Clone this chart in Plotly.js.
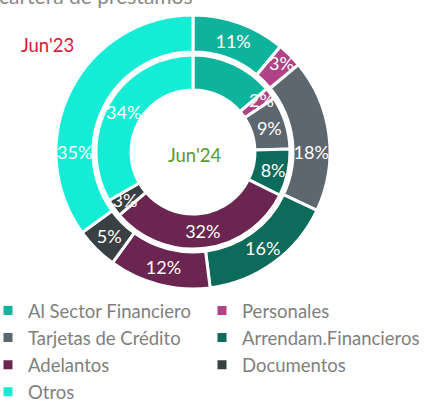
<!DOCTYPE html>
<html><head><meta charset="utf-8">
<script src="https://cdn.plot.ly/plotly-3.0.1.min.js"></script>
<style>html,body{margin:0;padding:0;background:#fff;}#chart{width:425px;height:401px;}</style>
</head><body><div id="chart"></div>
<script>
const categories = ["Al Sector Financiero","Personales","Tarjetas de Crédito","Arrendam.Financieros","Adelantos","Documentos","Otros"];
const colors = ["#0db39b","#b04386","#5d6770","#0c6b5a","#6a2650","#394043","#14ecd5"];
const jun23 = [11,3,18,16,12,5,35];
const jun24 = [14,2,9,8,32,3,34];
// which Jun'24 labels are drawn by the wide label ring (A) and the narrow one (B)
const jun24LabelRing = ["", "B", "A", "A", "A", "B", "A"];

const W=425,H=401, CX=193, CY=152;
function dom(r){return {x:[(CX-r)/W,(CX+r)/W], y:[1-(CY+r)/H,1-(CY-r)/H]};}

const base = {
  type:'pie', sort:false, direction:'clockwise', rotation:0, labels:categories,
  textinfo:'text', textposition:'inside', insidetextorientation:'horizontal',
  textfont:{family:'Lato, sans-serif', size:18, color:'#ffffff'},
  hoverinfo:'label+value'
};
const clear = categories.map(()=> 'rgba(0,0,0,0)');

const outer = Object.assign({}, base, {
  values:jun23, text:jun23.map(v=>v+'%'), hole:100/137, domain:dom(137), name:"Jun'23",
  marker:{colors:colors, line:{color:'#ffffff', width:3}}
});
const inner = Object.assign({}, base, {
  values:jun24, text:jun24.map(()=>''), hole:62/97, domain:dom(97), name:"Jun'24", showlegend:false,
  marker:{colors:colors, line:{color:'#ffffff', width:3}}
});
const labelsA = Object.assign({}, base, {
  values:jun24, text:jun24.map((v,i)=>jun24LabelRing[i]==='A'?v+'%':''), hole:58/102, domain:dom(102),
  showlegend:false, hoverinfo:'skip', marker:{colors:clear, line:{width:0}}
});
const labelsB = Object.assign({}, base, {
  values:jun24, text:jun24.map((v,i)=>jun24LabelRing[i]==='B'?v+'%':''), hole:0.5, domain:dom(91),
  showlegend:false, hoverinfo:'skip', marker:{colors:clear, line:{width:0}}
});

const layout = {
  width:W, height:H, margin:{l:0,r:0,t:0,b:0, autoexpand:false},
  paper_bgcolor:'#ffffff', plot_bgcolor:'#ffffff',
  font:{family:'Lato, sans-serif'},
  uniformtext:{mode:'show', minsize:18},
  showlegend:true,
  legend:{orientation:'h', x:0, xanchor:'left', y:1-292/H, yanchor:'top',
    entrywidth:181, entrywidthmode:'pixels', indentation:-12, traceorder:'normal',
    font:{family:'Lato, sans-serif', size:18.5, color:'#7f7f7f'}, itemwidth:30, tracegroupgap:0},
  annotations:[
    {text:'cartera de préstamos', x:-3/W, y:1-10/H, xref:'paper', yref:'paper', xanchor:'left', yanchor:'bottom', showarrow:false,
     font:{family:'Lato, sans-serif', size:21, color:'#8a8a8a'}},
    {text:"Jun'23", x:47/W, y:1-45/H, xref:'paper', yref:'paper', xanchor:'center', yanchor:'middle', showarrow:false,
     font:{family:'Lato, sans-serif', size:18.5, color:'#dc143c'}},
    {text:"Jun'24", x:195/W, y:1-155/H, xref:'paper', yref:'paper', xanchor:'center', yanchor:'middle', showarrow:false,
     font:{family:'Lato, sans-serif', size:18.5, color:'#5a9a2c'}}
  ]
};
Plotly.newPlot('chart',[outer,inner,labelsA,labelsB],layout,{displayModeBar:false,staticPlot:true});
</script></body></html>
